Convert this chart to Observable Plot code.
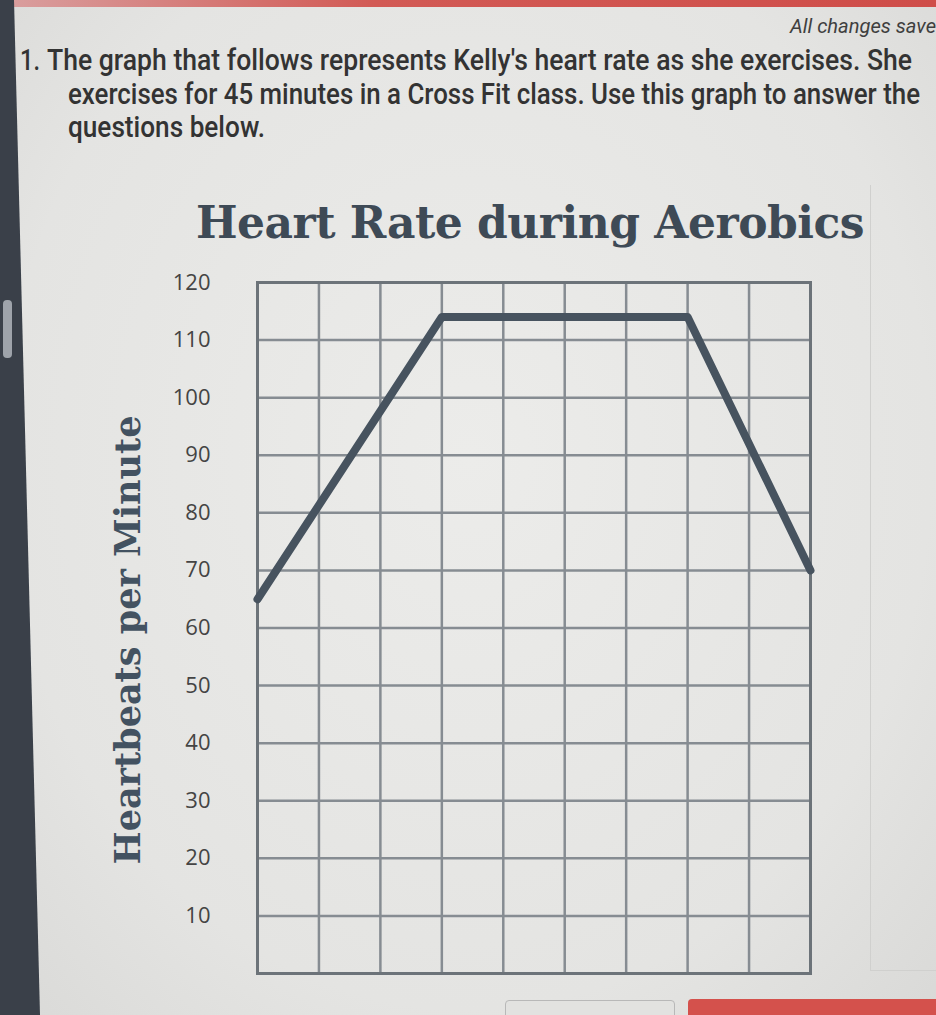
<!DOCTYPE html>
<html>
<head>
<meta charset="utf-8">
<script src="https://cdn.jsdelivr.net/npm/d3@7"></script>
<script src="https://cdn.jsdelivr.net/npm/@observablehq/plot@0.6"></script>
<style>
  html, body { margin: 0; padding: 0; }
  body { width: 936px; height: 1015px; overflow: hidden; position: relative;
         background: radial-gradient(ellipse at 50% 45%, #ececea 0%, #e4e4e2 70%, #d9d9d7 100%);
         font-family: "Roboto", sans-serif; }
  .abs { position: absolute; }
  #topbar { left: 0; top: 0; width: 936px; height: 7px; background: linear-gradient(90deg, #d9a0a0, #d25a55 40%, #cf4d49); }
  #bezel { left: 0; top: 0; width: 40px; height: 1015px; background: #3a4049;
           clip-path: polygon(0 0, 14px 0, 40px 1015px, 0 1015px); }
  #bezelbar { left: 3px; top: 300px; width: 9px; height: 58px; background: #9ea3aa; border-radius: 4px; }
  .fit { white-space: nowrap; transform-origin: 0 50%; color: #333; font-size: 29px; line-height: 34px; font-weight: 500; }
  #saved { top: 9px; font-style: italic; font-size: 20px; color: #3f3f3f; font-weight: 400; }
  #title { left: 0; width: 1060px; top: 197px; text-align: center; font-family: "DejaVu Serif", serif;
           font-weight: bold; font-size: 44px; color: #3e4a56; letter-spacing: -0.5px; }
  #ylabel { left: 127px; top: 640px; transform: translate(-50%, -50%) rotate(-90deg);
            font-family: "DejaVu Serif", serif; font-weight: bold; font-size: 35px; color: #435261;
            white-space: nowrap; }
  #chart { left: 0; top: 252px; }
  #btn1 { left: 505px; top: 1000px; width: 168px; height: 30px; border: 1.5px solid #b8b8b8; border-radius: 4px; background: #e2e2e0; }
  #btn2 { left: 688px; top: 999px; width: 260px; height: 30px; border-radius: 4px; background: #d4514c; }
  #panel { left: 870px; top: 185px; width: 80px; height: 785px; border-left: 1.5px solid #d0d0ce; border-bottom: 1.5px solid #d0d0ce; }
</style>
</head>
<body>
<div id="topbar" class="abs"></div>
<div id="bezel" class="abs"></div>
<div id="bezelbar" class="abs"></div>
<div id="panel" class="abs"></div>
<div id="saved" class="abs fit" data-x0="790" data-x1="936">All changes save</div>
<div class="abs fit" style="top:43px" data-x0="20" data-x1="40">1.</div>
<div class="abs fit" style="top:43px" data-x0="47" data-x1="912">The graph that follows represents Kelly's heart rate as she exercises. She</div>
<div class="abs fit" style="top:77px" data-x0="68" data-x1="920">exercises for 45 minutes in a Cross Fit class. Use this graph to answer the</div>
<div class="abs fit" style="top:110px" data-x0="68" data-x1="265">questions below.</div>
<div id="title" class="abs">Heart Rate during Aerobics</div>
<div id="ylabel" class="abs">Heartbeats per Minute</div>
<div id="chart" class="abs"></div>
<div id="btn1" class="abs"></div>
<div id="btn2" class="abs"></div>
<script>
// Time in minutes and heart rate (beats per minute)
const minutes = [0, 15, 35, 45];
const heartRate = [65, 114, 114, 70];
const yTicks = [10, 20, 30, 40, 50, 60, 70, 80, 90, 100, 110, 120];
const xGrid = [0, 5, 10, 15, 20, 25, 30, 35, 40, 45];
const yGrid = [0, 10, 20, 30, 40, 50, 60, 70, 80, 90, 100, 110, 120];

const data = minutes.map((m, i) => ({minute: m, rate: heartRate[i]}));

// fit the question text lines to the widths seen in the reference
document.querySelectorAll(".fit").forEach(el => {
  const x0 = +el.dataset.x0, x1 = +el.dataset.x1;
  el.style.left = x0 + "px";
  const w = el.getBoundingClientRect().width;
  el.style.transform = `scaleX(${(x1 - x0) / w})`;
});

const chart = Plot.plot({
  width: 936,
  height: 731,
  marginLeft: 257,
  marginRight: 126,
  marginTop: 30,
  marginBottom: 10,
  style: {background: "transparent", fontFamily: "'Open Sans', sans-serif", fontSize: "22px", color: "#444"},
  x: {domain: [0, 45], axis: null},
  y: {domain: [0, 120], ticks: yTicks, tickSize: 0, tickPadding: 47, label: null},
  marks: [
    Plot.gridX(xGrid, {stroke: "#868c92", strokeOpacity: 1, strokeWidth: 2.5}),
    Plot.gridY(yGrid, {stroke: "#868c92", strokeOpacity: 1, strokeWidth: 2.5}),
    Plot.frame({stroke: "#6c7379", strokeWidth: 3}),
    Plot.axisY(yTicks, {tickSize: 0, tickPadding: 47, fontSize: 22, fill: "#444", label: null}),
    Plot.line(data, {x: "minute", y: "rate", stroke: "#47535f", strokeWidth: 8, strokeLinecap: "round", strokeLinejoin: "round"})
  ]
});
document.getElementById("chart").appendChild(chart);
</script>
</body>
</html>
